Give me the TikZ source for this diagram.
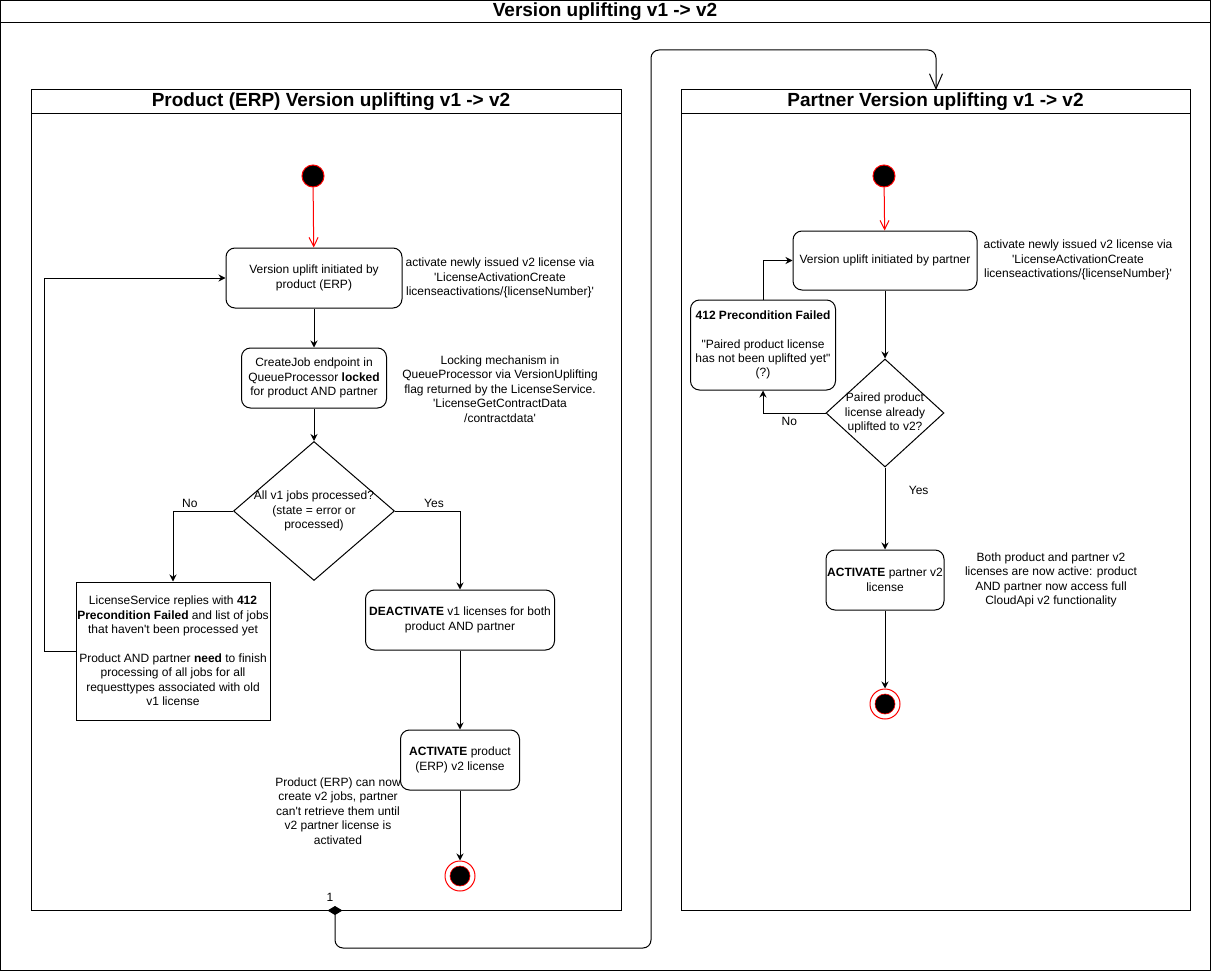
\documentclass[tikz,border=0pt]{standalone}
\usepackage{fontspec}
\setmainfont{Liberation Sans}
\usetikzlibrary{shapes.geometric, arrows.meta}
\newcommand{\sq}{\textquotesingle}
\newcommand{\titolo}{\bfseries\fontsize{19}{22}\selectfont}

\begin{document}
\begin{tikzpicture}[x=1pt, y=-1pt, line width=1pt,
    font=\fontsize{12}{14.4}\selectfont,
    stato/.style={draw, rounded corners=9pt, align=center, inner sep=0pt},
    blocco/.style={draw, align=center, inner sep=0pt},
    inizio/.style={circle, draw=red, fill=black, minimum size=22pt, inner sep=0pt},
    fine/.style={circle, draw=red, fill=white, minimum size=30pt, inner sep=0pt,
        path picture={\filldraw[fill=black, draw=red, line width=0.6pt] (path picture bounding box.center) circle (10pt);}},
    scelta/.style={diamond, draw, inner sep=0pt},
    nota/.style={align=center},
    freccia/.style={-{Stealth[length=7pt, width=7pt]}},
    frecciaRossa/.style={red, -{Straight Barb[length=9pt, width=9pt]}}]
    \useasboundingbox (0,0) rectangle (1211,971);
    % Cornice
    \draw (0.5,0.5) rectangle (1210.5,970.5);
    \draw (0.5,23) -- (1210.5,23);
    \node[font=\titolo] (tit) at (605,12) {Version uplifting v1 -> v2};
    % Corsie
    \draw (31,90) rectangle (621,910);
    \draw (31,114) -- (621,114);
    \node[font=\titolo] (titL) at (331,102) {Product (ERP) Version uplifting v1 -> v2};
    \draw (681,90) rectangle (1190,910);
    \draw (681,114) -- (1190,114);
    \node[font=\titolo] (titR) at (935.5,102) {Partner Version uplifting v1 -> v2};
    % Prodotto (ERP)
    \node[inizio] (iniL) at (313,176) {};
    \node[stato, minimum width=176, minimum height=60] (upL) at (314,278) {Version uplift initiated by\\product (ERP)};
    \node[nota] (notaUpL) at (500,278) {activate newly issued v2 license via\\\sq LicenseActivationCreate\\licenseactivations/\{licenseNumber\}\sq};
    \node[stato, minimum width=145, minimum height=60] (lock) at (314,378) {CreateJob endpoint in\\QueueProcessor \textbf{locked}\\for product AND partner};
    \node[nota] (notaLock) at (500,389) {Locking mechanism in\\QueueProcessor via VersionUplifting\\flag returned by the LicenseService.\\\sq LicenseGetContractData\\/contractdata\sq};
    \node[scelta, minimum width=161, minimum height=139,
        label={[align=center]center:All v1 jobs processed?\\(state = error or\\processed)}] (dec1) at (314,511) {};
    \node[blocco, minimum width=194, minimum height=138] (rej) at (173,651) {LicenseService replies with \textbf{412}\\\textbf{Precondition Failed} and list of jobs\\that haven\sq t been processed yet\\[14.4pt]Product AND partner \textbf{need} to finish\\processing of all jobs for all\\requesttypes associated with old\\v1 license};
    \node[stato, minimum width=189, minimum height=60] (deact) at (460,620) {\textbf{DEACTIVATE} v1 licenses for both\\product AND partner};
    \node[stato, minimum width=119, minimum height=60] (actL) at (460,760) {\textbf{ACTIVATE} product\\(ERP) v2 license};
    \node[nota] (notaActL) at (338,811) {Product (ERP) can now\\create v2 jobs, partner\\can\sq t retrieve them until\\v2 partner license is\\activated};
    \node[fine] (fineL) at (460,876) {};
    % Partner
    \node[inizio] (iniR) at (884,176) {};
    \node[stato, minimum width=184, minimum height=59] (upR) at (885,260.5) {Version uplift initiated by partner};
    \node[nota] (notaUpR) at (1078,260) {activate newly issued v2 license via\\\sq LicenseActivationCreate\\licenseactivations/\{licenseNumber\}\sq};
    \node[scelta, minimum width=118, minimum height=108,
        label={[align=center]center:Paired product\\license already\\uplifted to v2?}] (dec2) at (885,413) {};
    \node[stato, minimum width=145, minimum height=90] (fail) at (763,345) {\textbf{412 Precondition Failed}\\[14.4pt]\textquotedbl Paired product license\\has not been uplifted yet\textquotedbl\\(?)};
    \node[stato, minimum width=118, minimum height=60] (actR) at (885,580) {\textbf{ACTIVATE} partner v2\\license};
    \node[nota] (notaActR) at (1051,580) {Both product and partner v2\\licenses are now active: product\\AND partner now access full\\CloudApi v2 functionality};
    \node[fine] (fineR) at (885,704) {};
    % Frecce
    \draw[frecciaRossa] (iniL) -- (upL);
    \draw[freccia] (upL) -- (lock);
    \draw[freccia] (lock) -- (dec1);
    \draw[freccia] (dec1.west) -| node[pos=0.36, above]{No} (rej.north);
    \draw[freccia] (rej.west) -- ++(-31,0) |- (upL.west);
    \draw[freccia] (dec1.east) -| node[pos=0.3, above]{Yes} (deact.north);
    \draw[freccia] (deact) -- (actL);
    \draw[freccia] (actL) -- (fineL);
    \draw[frecciaRossa] (iniR) -- (upR);
    \draw[freccia] (upR) -- (dec2);
    \draw[freccia] (dec2.west) -| node[pos=0.29, below]{No} (fail.south);
    \draw[freccia] (fail.north) |- (upR.west);
    \draw[freccia] (dec2) -- node[pos=0.28, right, xshift=20pt]{Yes} (actR);
    \draw[freccia] (actR) -- (fineR);
    % Collegamento tra le corsie
    \coordinate (da) at (335,906);
    \coordinate (a) at (936,90);
    \draw[rounded corners=8pt, {Diamond[length=9pt, width=15pt]}-{Straight Barb[length=15pt, width=13pt]}]
        (da) node[xshift=-5pt, yshift=9pt]{1} -- (335,948) -| (651,50) -| (a);
\end{tikzpicture}
\end{document}
